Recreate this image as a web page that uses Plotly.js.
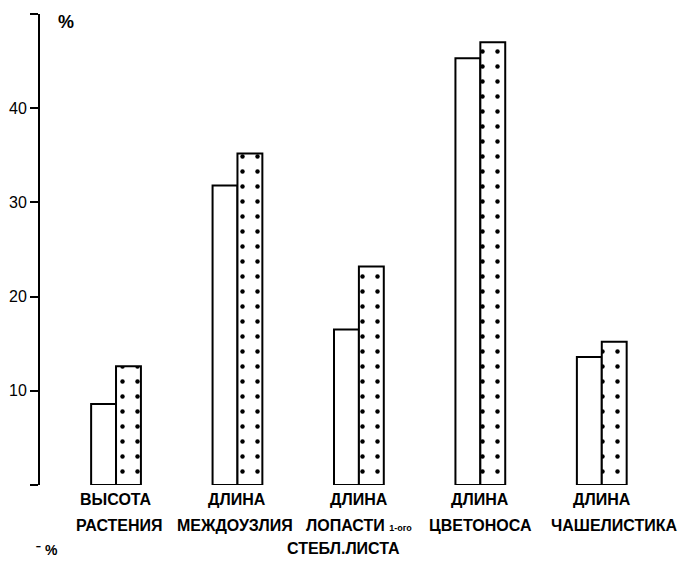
<!DOCTYPE html>
<html><head><meta charset="utf-8">
<script src="https://cdn.plot.ly/plotly-3.0.1.min.js"></script>
<style>html,body{margin:0;padding:0;background:#fff}#chart{width:688px;height:561px}</style>
</head><body><div id="chart"></div>
<script>
const categories = ["ВЫСОТА РАСТЕНИЯ", "ДЛИНА МЕЖДОУЗЛИЯ", "ДЛИНА ЛОПАСТИ 1-ого СТЕБЛ. ЛИСТА", "ДЛИНА ЦВЕТОНОСА", "ДЛИНА ЧАШЕЛИСТИКА"];
const line1 = ["ВЫСОТА", "ДЛИНА", "ДЛИНА", "ДЛИНА", "ДЛИНА"];
const line2 = ["РАСТЕНИЯ", "МЕЖДОУЗЛИЯ", "ЛОПАСТИ <span style='font-size:9px'>1-ого</span>", "ЦВЕТОНОСА", "ЧАШЕЛИСТИКА"];
const line3 = ["", "", "СТЕБЛ.ЛИСТА", "", ""];
const whiteVals = [8.6, 31.8, 16.5, 45.3, 13.6];
const dottedVals = [12.6, 35.2, 23.2, 47.0, 15.2];
const yTickVals = [0, 10, 20, 30, 40, 50];
const yTickText = ["", "10", "20", "30", "40", ""];

const idx = categories.map((_, i) => i);
const F = "Liberation Sans, Arial, sans-serif";

const traces = [
  {type: "bar", x: idx, y: whiteVals, name: "white",
   marker: {color: "#ffffff", line: {color: "#000", width: 2}}},
  {type: "bar", x: idx, y: dottedVals, name: "dotted",
   marker: {color: "#ffffff", line: {color: "#000", width: 2},
            pattern: {shape: ".", fgcolor: "#000", bgcolor: "#fff", size: 15, solidity: 0.07}}}
];

const ann = [];
const l2shift = [3, -2, 0, 0, 12];
const l3shift = [0, 0, -15, 0, 0];
const lf = {family: F, size: 16, color: "#000", weight: "bold"};
idx.forEach(i => {
  ann.push({x: i, y: -0.03, xref: "x", yref: "paper", text: line1[i], showarrow: false,
            yanchor: "middle", font: lf});
  ann.push({x: i, y: -0.085, xref: "x", yref: "paper", text: line2[i], showarrow: false, xshift: l2shift[i],
            yanchor: "middle", font: lf});
  if (line3[i]) ann.push({x: i, y: -0.135, xref: "x", yref: "paper", text: line3[i], showarrow: false, xshift: l3shift[i],
            yanchor: "middle", font: lf});
});
ann.push({x: 0.04, y: 0.983, xref: "paper", yref: "paper", text: "%", showarrow: false,
          xanchor: "center", yanchor: "middle", font: {family: F, size: 18, color: "#000", weight: "bold"}});
ann.push({x: -0.01, y: -0.138, xref: "paper", yref: "paper", text: "⁻ %", showarrow: false,
          yanchor: "middle", font: {family: F, size: 14, color: "#000", weight: "bold"}});

const layout = {
  width: 688, height: 561,
  margin: {l: 40, r: 0, t: 14, b: 76},
  paper_bgcolor: "#fff", plot_bgcolor: "#fff",
  showlegend: false,
  barmode: "group", bargap: 0.59, bargroupgap: 0,
  xaxis: {range: [-0.626, 4.71], showline: false, showgrid: false, zeroline: false,
          showticklabels: false, ticks: ""},
  yaxis: {range: [0, 50], showline: true, linecolor: "#000", linewidth: 2, showgrid: false, zeroline: false,
          ticks: "outside", ticklen: 8, tickwidth: 2, tickcolor: "#000",
          tickvals: yTickVals, ticktext: yTickText,
          tickfont: {family: F, size: 16, color: "#000"}},
  annotations: ann
};
Plotly.newPlot("chart", traces, layout, {displayModeBar: false, staticPlot: true});
</script></body></html>
